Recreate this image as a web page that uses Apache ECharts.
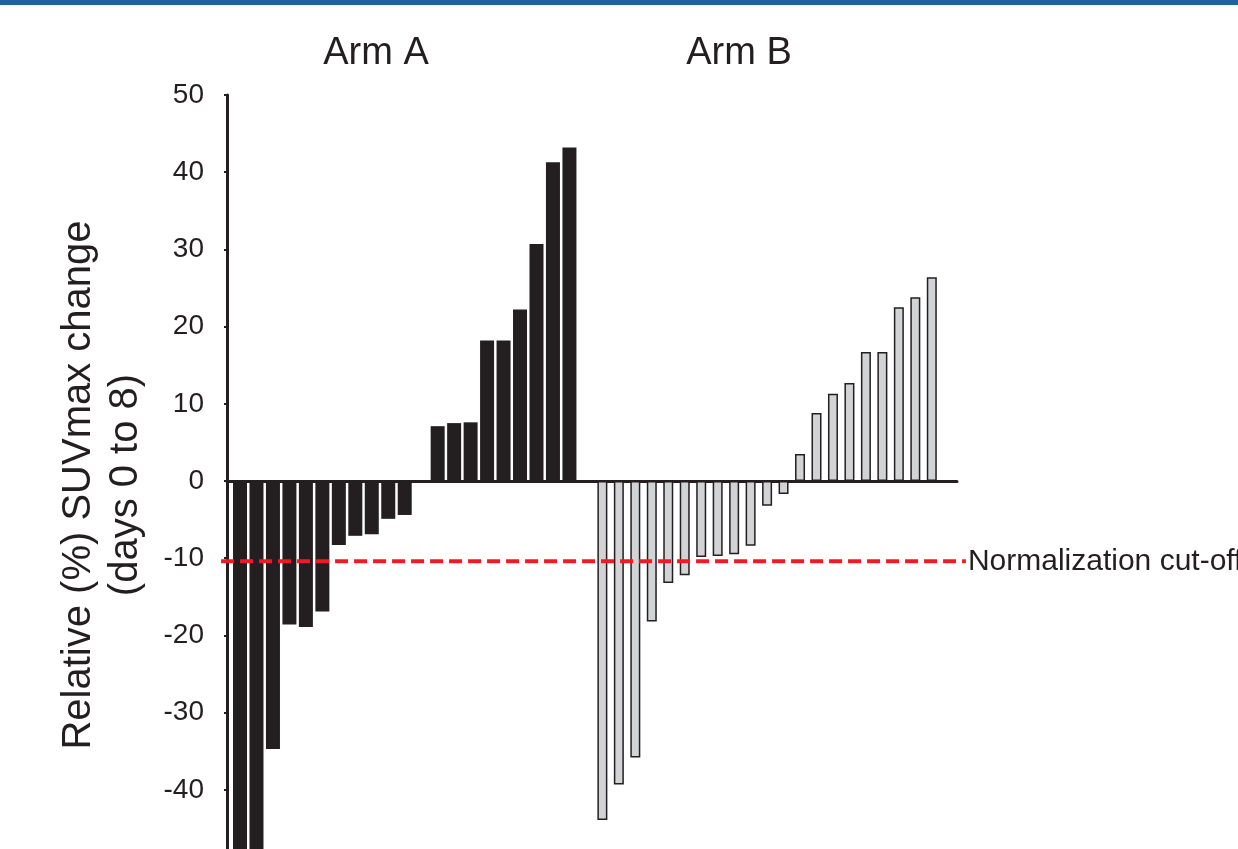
<!DOCTYPE html>
<html>
<head>
<meta charset="utf-8">
<script src="https://cdn.jsdelivr.net/npm/echarts@6/dist/echarts.min.js"></script>
<style>
html,body{margin:0;padding:0;background:#fff;}
#chart{width:1238px;height:849px;}
</style>
</head>
<body>
<div id="chart"></div>
<script>
// Relative (%) SUVmax change, days 0 to 8 — one bar per patient
const armA = [-60, -56, -34.7, -18.6, -18.9, -16.9, -8.3, -7.1, -6.9, -4.9, -4.4, null,
              7.1, 7.5, 7.6, 18.2, 18.2, 22.2, 30.7, 41.3, 43.2];
const armB = [-43.9, -39.3, -35.8, -18.2, -13.2, -12.2, -9.85, -9.7, -9.5, -8.4, -3.2, -1.7,
              3.5, 8.8, 11.3, 12.7, 16.7, 16.7, 22.5, 23.8, 26.4];
const armStartSlot = [0, 22];           // slot index of first bar of each arm
const armTitles = ['Arm A', 'Arm B'];
const cutoff = [-10.4];
const cutoffLabel = 'Normalization cut-off';
const yTicks = [-50, -40, -30, -20, -10, 0, 10, 20, 30, 40, 50];
const yTitle = 'Relative (%) SUVmax change\n(days 0 to 8)';

const font = '"Liberation Sans", Arial, Helvetica, sans-serif';
const ink = '#231f20';

const dataA = armA.map((v, i) => [armStartSlot[0] + i, v]).filter(d => d[1] !== null);
const dataB = armB.map((v, i) => [armStartSlot[1] + i, v]).filter(d => d[1] !== null);

const xMin = -0.79, xMax = 43.53;
const cutoffSpan = [-1.15, 44.07];   // cut-off line runs slightly past the axes
const hiddenX = {
  type: 'value', min: xMin, max: xMax,
  axisLabel: {show: false}, axisTick: {show: false}, splitLine: {show: false}
};

const chart = echarts.init(document.getElementById('chart'), null, {renderer: 'canvas'});
chart.setOption({
  backgroundColor: '#ffffff',
  animation: false,
  textStyle: {fontFamily: font, color: ink},
  title: [
    {text: armTitles[0], left: 371, top: 30, textAlign: 'center',
     textStyle: {fontFamily: font, fontSize: 38, fontWeight: 'normal', color: ink}},
    {text: armTitles[1], left: 734, top: 30, textAlign: 'center',
     textStyle: {fontFamily: font, fontSize: 38, fontWeight: 'normal', color: ink}}
  ],
  graphic: [{
    id: 'topband', type: 'rect', left: 0, top: 0, shape: {width: 1238, height: 5},
    style: {fill: '#2062a0'}, silent: true
  }],
  grid: {left: 227, right: 281, top: 95, bottom: -18, containLabel: false, outerBoundsMode: 'none'},
  xAxis: [
    Object.assign({}, hiddenX, {
      axisLine: {show: true, onZero: true, lineStyle: {color: ink, width: 3}}
    }),
    Object.assign({}, hiddenX, {show: false, axisLine: {show: false}})
  ],
  yAxis: {
    type: 'value', min: yTicks[0], max: yTicks[yTicks.length - 1], interval: 10,
    name: yTitle, nameLocation: 'middle', nameGap: 78,
    nameTextStyle: {fontFamily: font, fontSize: 40, color: ink, lineHeight: 47, align: 'center',
                    padding: [0, 8, 0, 0]},
    axisLine: {show: true, onZero: false, lineStyle: {color: ink, width: 3}},
    axisTick: {show: true, length: 3, lineStyle: {color: ink, width: 2}},
    axisLabel: {fontFamily: font, fontSize: 28, color: ink, margin: 23},
    splitLine: {show: false}
  },
  series: [
    {
      name: armTitles[0], type: 'bar', xAxisIndex: 0, data: dataA,
      barWidth: 14, clip: false,
      itemStyle: {color: ink}
    },
    {
      name: armTitles[1], type: 'bar', xAxisIndex: 1, data: dataB,
      barWidth: 10, clip: false,
      itemStyle: {color: '#d1d3d4', borderColor: ink, borderWidth: 1.5}
    }
  ]
});

// Cut-off reference line placed through the chart's own scales
const p0 = chart.convertToPixel({xAxisIndex: 0, yAxisIndex: 0}, [cutoffSpan[0], cutoff[0]]);
const p1 = chart.convertToPixel({xAxisIndex: 0, yAxisIndex: 0}, [cutoffSpan[1], cutoff[0]]);
chart.setOption({
  graphic: [
    {
      id: 'cutline', type: 'line', silent: true, z: 10,
      shape: {x1: p0[0], y1: p0[1], x2: p1[0], y2: p1[1]},
      style: {stroke: '#ed1c24', lineWidth: 4, lineDash: [13, 6]}
    },
    {
      id: 'cuttext', type: 'text', silent: true, z: 10,
      x: p1[0] + 2, y: p1[1],
      style: {text: cutoffLabel, fill: ink, font: '30px ' + font,
              verticalAlign: 'middle', align: 'left'}
    }
  ]
});
</script>
</body>
</html>
